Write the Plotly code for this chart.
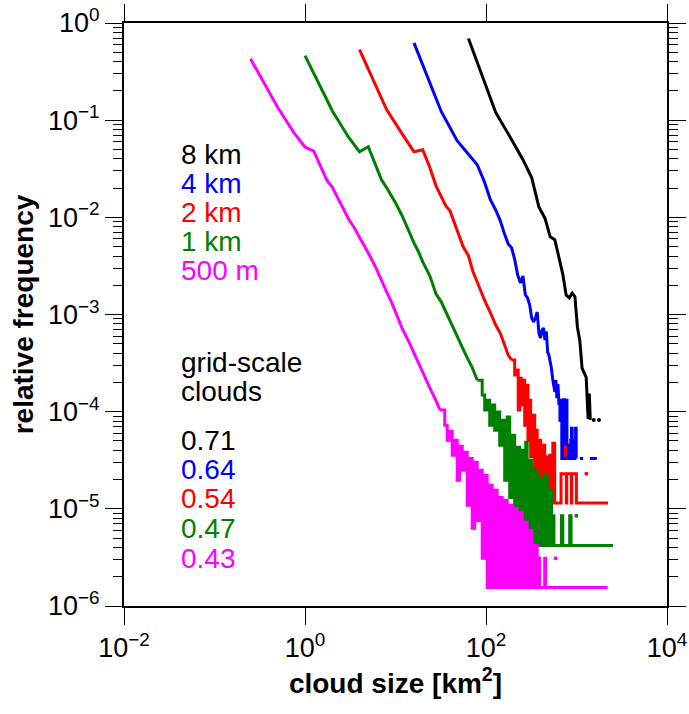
import plotly.graph_objects as go

# ---------------- data ----------------
# 8 km (cell area 64 km^2)
x_8km = [64, 128, 192, 256, 320, 384, 448, 512, 576, 640, 704, 768, 832, 896, 960,
         1024, 1088, 1152, 1216, 1280, 1344, 1386, 1420]
f_8km = [0.692, 0.12, 0.063, 0.0392, 0.0255, 0.0128, 0.0098, 0.0063, 0.0059, 0.0040,
         0.00262, 0.00159, 0.00148, 0.00166, 0.00153, 7.4e-4, 5.4e-4, 2.8e-4, 2.5e-4,
         2.25e-4, 8.4e-5, 1.54e-4, 8.2e-5]
dots_8km_x = [1549, 1773]
dots_8km_f = [8.2e-5, 8.2e-5]

# 4 km (cell area 16 km^2)
x_4km = [16, 32, 48, 64, 80, 96, 112, 128, 144, 160, 176, 192, 208, 224, 240, 256,
         272, 288, 304, 320, 336, 352, 368, 384, 400, 416, 432, 448, 464, 480, 496,
         512, 528, 544, 560, 576, 592, 608, 624, 640, 656, 672, 688, 704, 720, 736,
         752, 768, 784, 800, 816, 848, 864, 880, 896, 944, 960, 976, 992,
         None, 1088, 1184, None, 1408, 1680]
f_4km = [0.625, 0.123, 0.0615, 0.0441, 0.0348, 0.0232, 0.0151, 0.0119, 0.0092, 0.00676,
         0.00533, 0.00485, 0.00365, 0.00255, 0.00211, 0.00249, 0.00159, 0.00148, 0.00125,
         9.2e-4, 8.4e-4, 9.2e-4, 0.00106, 6.44e-4, 5.72e-4, 6.92e-4, 7.26e-4, 5.46e-4,
         6.7e-4, 4.1e-4, 3.82e-4, 3.24e-4, 2.81e-4, 2.21e-4, 1.87e-4, 1.59e-4, 2.11e-4,
         1.38e-4, 1.92e-4, 1.17e-4, 8.17e-5, 1.31e-4, 3.3e-5, 8.17e-5, 1.33e-4, 3.3e-5,
         6.44e-5, 1.31e-4, 3.3e-5, 4.52e-5, 3.3e-5, 3.3e-5, 5.08e-5, 6.76e-5, 3.3e-5,
         3.3e-5, 5.08e-5, 6.76e-5, 3.3e-5,
         None, 3.3e-5, 3.3e-5, None, 3.3e-5, 3.3e-5]

# 2 km (cell area 4 km^2)
x_2km = [4, 8, 12, 16, 20, 24, 28, 32, 36, 40, 48, 56, 64, 72, 80, 88, 96, 112, 128,
         144, 160, 176, 192, 207.5, 217, 227, 235.7, 245, 251.2, 267.7, 285.3, 291,
         304.1, 311.6, 324, 345.1, 353, 367.9, 392.1, 402, 417.8, 445.3, 464, 480,
         505.8, 525, 547, 574, 669, 675, 765, 773, 780, 870, 879, 888, 985, 997, 2229,
         None, 754, 754]
f_2km = [0.533, 0.128, 0.071, 0.0473, 0.0497, 0.0324, 0.0211, 0.0167, 0.0131, 0.0117,
         0.00743, 0.00497, 0.00401, 0.00274, 0.00216, 0.0017, 0.00141, 0.00104, 7.8e-4,
         6.4e-4, 4.85e-4, 3.82e-4, 3.4e-4, 2.38e-4, 2.68e-4, 1.04e-4, 2.21e-4, 1.17e-4,
         2.11e-4, 7.26e-5, 1.87e-4, 5.08e-5, 1.31e-4, 3.43e-5, 9.2e-5, 2.49e-5, 6.44e-5,
         2.06e-5, 5.08e-5, 1.75e-5, 4.52e-5, 1.38e-5, 3.43e-5, 1.31e-5, 3.56e-5, 1.15e-5,
         4.73e-5, 1.15e-5, 1.15e-5, 2.3e-5, 2.3e-5, 1.15e-5, 2.3e-5, 2.3e-5, 1.15e-5,
         2.3e-5, 2.3e-5, 1.15e-5, 1.15e-5,
         None, 4.52e-5, 3.43e-5]
dots_2km_x = [1286]
dots_2km_f = [2.3e-5]

# 1 km (cell area 1 km^2)
x_1km = [1, 2, 3, 4, 5, 6, 7, 8, 9, 10, 12, 14, 16, 18, 20, 24, 28, 32, 40, 50, 60,
         70, 80, 90.8, 96.7, 103.1, 109.9, 117.1, 124.8, 133, 141.7, 151, 160.9, 171.5,
         182.8, 194.8, 207.5, 221.2, 235.7, 251.2, 267.7, 274.6, 285.3, 304.1, 324,
         345.1, 367.9, 392.1, 417.8, 445.3, 474.6, 505.8, 530, 547, 563, 652, 681, 705,
         820, 841, 870, 2530]
f_1km = [0.462, 0.125, 0.0676, 0.0473, 0.0533, 0.0348, 0.0244, 0.0201, 0.0167, 0.0141,
         0.0101, 0.0071, 0.00546, 0.0044, 0.00348, 0.00249, 0.00163, 0.00135, 8.57e-4,
         5.33e-4, 3.82e-4, 2.88e-4, 2.11e-4, 1.48e-4, 1.04e-4, 1.31e-4, 7.26e-5, 1.17e-4,
         6.44e-5, 9.9e-5, 4.52e-5, 8.17e-5, 1.97e-5, 8.8e-5, 1.31e-5, 5.73e-5, 4.2e-6,
         4.3e-5, 4.2e-6, 4.01e-5, 4.2e-6, 4.85e-5, 4.2e-6, 3.16e-5, 4.2e-6, 2.49e-5,
         4.2e-6, 2.06e-5, 4.2e-6, 2.21e-5, 4.2e-6, 1.55e-5, 4.2e-6, 8.5e-6, 4.2e-6,
         4.2e-6, 8.5e-6, 4.2e-6, 4.2e-6, 8.5e-6, 4.2e-6, 4.2e-6]
dots_1km_x = [997]
dots_1km_f = [8.5e-6]

# 500 m (cell area 0.25 km^2)
x_500m = [0.25, 0.5, 0.75, 1.0, 1.25, 1.5, 1.75, 2.0, 2.5, 3.0, 3.5, 4.0, 5.0, 6.0,
          7.0, 8.0, 9.0, 10, 12, 14, 16, 18, 20, 24, 28, 31, 35, 37.3, 39.7, 42.3, 45.1,
          48.1, 51.2, 54.6, 58.2, 62, 66.1, 70.4, 75, 80, 85.2, 90.8, 96.7, 103.1,
          109.9, 117.1, 124.8, 133, 141.7, 151, 160.9, 171.5, 182.8, 194.8, 207.5,
          221.2, 235.7, 251.2, 267.7, 285.3, 304.1, 324, 345.1, 367.9, 378, 392, 445,
          456, 2210]
f_500m = [0.428, 0.135, 0.075, 0.053, 0.048, 0.033, 0.024, 0.0205, 0.0135, 0.0098,
          0.0078, 0.0063, 0.0043, 0.0031, 0.0022, 0.0017, 0.00135, 0.00105, 7.0e-4,
          5.3e-4, 4.0e-4, 3.1e-4, 2.5e-4, 1.75e-4, 1.3e-4, 1.04e-4, 7.26e-5, 5.08e-5,
          6.3e-5, 3.56e-5, 5.08e-5, 1.97e-5, 4.4e-5, 2.49e-5, 3.82e-5, 1.09e-5, 3.3e-5,
          6.3e-6, 3.01e-5, 7.6e-6, 2.49e-5, 3.1e-6, 2.2e-5, 1.55e-6, 1.75e-5, 1.55e-6,
          1.55e-5, 1.55e-6, 1.31e-5, 1.55e-6, 1.22e-5, 1.55e-6, 1.09e-5, 1.55e-6,
          1.01e-5, 1.55e-6, 9.1e-6, 1.55e-6, 7.26e-6, 1.55e-6, 6.0e-6, 1.55e-6, 4.2e-6,
          1.55e-6, 3.1e-6, 1.55e-6, 3.1e-6, 1.55e-6, 1.55e-6]
dots_500m_x = [589]
dots_500m_f = [3.1e-6]

resolutions = ["8 km", "4 km", "2 km", "1 km", "500 m"]
gridscale_fractions = ["0.71", "0.64", "0.54", "0.47", "0.43"]
colors = ["#000000", "#0000FF", "#FF0000", "#008000", "#FF00FF"]

x_ticks = [1e-2, 1e0, 1e2, 1e4]
x_ticklabels = ["10<sup>−2</sup>", "10<sup>0</sup>", "10<sup>2</sup>", "10<sup>4</sup>"]
y_ticks = [1e-6, 1e-5, 1e-4, 1e-3, 1e-2, 1e-1, 1e0]
y_ticklabels = ["10<sup>−6</sup>", "10<sup>−5</sup>", "10<sup>−4</sup>", "10<sup>−3</sup>",
                "10<sup>−2</sup>", "10<sup>−1</sup>", "10<sup>0</sup>"]

# index at which each series turns noisy (drawn as dense steps from there on)
noise_start = [len(x_8km), 39, 22, 22, 25]

# ---------------- figure ----------------
FONT = "Liberation Sans, Arial, Helvetica, sans-serif"
fig = go.Figure()

series = [(x_8km, f_8km), (x_4km, f_4km), (x_2km, f_2km), (x_1km, f_1km), (x_500m, f_500m)]
dots = [(dots_8km_x, dots_8km_f), (dots_2km_x, dots_2km_f), (dots_1km_x, dots_1km_f),
        (dots_500m_x, dots_500m_f)]
dot_colors = [colors[0], colors[2], colors[3], colors[4]]

for (xs, fs), c, k in zip(series, colors, noise_start):
    fig.add_trace(go.Scatter(x=xs[:k + 1], y=fs[:k + 1], mode="lines", connectgaps=False,
                             line=dict(color=c, width=3), showlegend=False,
                             hoverinfo="skip"))
    if k < len(xs) - 1:
        fig.add_trace(go.Scatter(x=xs[k:], y=fs[k:], mode="lines", connectgaps=False,
                                 line=dict(color=c, width=3, shape="hv"),
                                 showlegend=False, hoverinfo="skip"))
for (xs, fs), c in zip(dots, dot_colors):
    fig.add_trace(go.Scatter(x=xs, y=fs, mode="markers",
                             marker=dict(color=c, size=4), showlegend=False,
                             hoverinfo="skip"))

minor_y = [m * 10.0 ** e for e in range(-6, 0) for m in range(2, 10)]

fig.update_xaxes(type="log", range=[-2, 4], tickmode="array", tickvals=x_ticks,
                 ticktext=x_ticklabels, ticks="outside", ticklen=17, tickwidth=1.2,
                 tickcolor="black", showline=True, linecolor="black", linewidth=2,
                 mirror="ticks", showgrid=False, zeroline=False, automargin=False,
                 tickfont=dict(family=FONT, size=27, color="black"),
                 title=dict(text="<b>cloud size [km<sup>2</sup>]</b>",
                            font=dict(family=FONT, size=28, color="black"), standoff=8))
fig.update_yaxes(type="log", range=[-6, 0], tickmode="array", tickvals=y_ticks,
                 ticktext=y_ticklabels, ticks="outside", ticklen=17, tickwidth=1.2,
                 tickcolor="black", showline=True, linecolor="black", linewidth=2,
                 mirror="ticks", showgrid=False, zeroline=False, automargin=False,
                 minor=dict(tickmode="array", tickvals=minor_y, ticks="outside",
                            ticklen=9, tickwidth=1, tickcolor="black", showgrid=False),
                 tickfont=dict(family=FONT, size=27, color="black"),
                 title=dict(text="<b>relative frequency</b>",
                            font=dict(family=FONT, size=28, color="black"), standoff=6))

annots = []
label_y = [0.774, 0.7243, 0.6745, 0.6247, 0.5749]
for txt, c, yy in zip(resolutions, colors, label_y):
    annots.append(dict(text=txt, x=0.1005, y=yy, xref="paper", yref="paper",
                       xanchor="left", yanchor="middle", showarrow=False,
                       font=dict(family=FONT, size=28, color=c)))
annots.append(dict(text="grid-scale", x=0.1005, y=0.4170, xref="paper", yref="paper",
                   xanchor="left", yanchor="middle", showarrow=False,
                   font=dict(family=FONT, size=28, color="black")))
annots.append(dict(text="clouds", x=0.1005, y=0.3672, xref="paper", yref="paper",
                   xanchor="left", yanchor="middle", showarrow=False,
                   font=dict(family=FONT, size=28, color="black")))
frac_y = [0.2846, 0.2348, 0.1850, 0.1335, 0.0820]
for txt, c, yy in zip(gridscale_fractions, colors, frac_y):
    annots.append(dict(text=txt, x=0.1005, y=yy, xref="paper", yref="paper",
                       xanchor="left", yanchor="middle", showarrow=False,
                       font=dict(family=FONT, size=28, color=c)))

fig.update_layout(width=689, height=714, margin=dict(l=124, r=22, t=23, b=108),
                  plot_bgcolor="white", paper_bgcolor="white", annotations=annots,
                  font=dict(family=FONT, color="black"))

fig.write_html("out.html")
